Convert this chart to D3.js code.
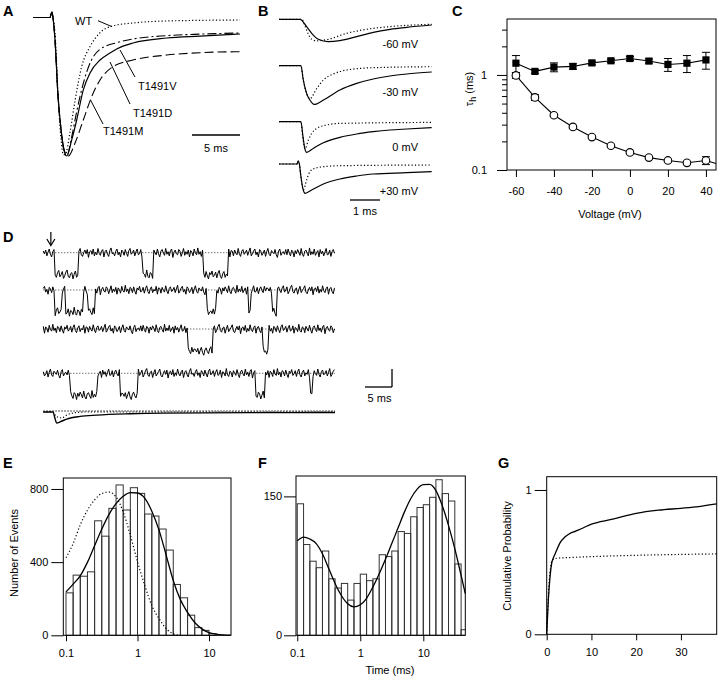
<!DOCTYPE html>
<html><head><meta charset="utf-8">
<script src="https://cdn.jsdelivr.net/npm/d3@7"></script>
<style>
body{margin:0;background:#fff}
svg{display:block;font-family:"Liberation Sans",Arial,Helvetica,sans-serif}
</style></head><body>
<svg id="fig" width="720" height="679"></svg>
<script>
// ================= DATA =================
// Panel A: normalized current (fraction of peak) vs time (ms)
const aOnsetT = [0, 1.77, 1.98, 2.08, 2.29, 2.60, 2.92, 3.23];
const aOnsetI = [0, 0, 0.04, 0, -0.16, -0.56, -0.81, -0.957];
const aWT_T = [0, 1.77, 1.98, 2.08, 2.29, 2.64, 2.92, 3.16, 3.35, 3.85, 4.38, 5.07, 5.94, 6.98, 8.33, 10.4, 13.96, 21.56];
const aWT_I = [0, 0, 0.04, 0, -0.11, -0.60, -0.88, -0.99, -0.99, -0.83, -0.60, -0.355, -0.21, -0.11, -0.06, -0.04, -0.025, -0.018];
const aD_T = [3.51, 4.03, 4.55, 5.24, 5.94, 6.98, 8.02, 8.72, 10.42, 13.93, 17.40, 21.56];
const aD_I = [-1.0, -0.884, -0.74, -0.523, -0.40, -0.307, -0.256, -0.227, -0.184, -0.148, -0.134, -0.119];
const aV_T = [3.51, 4.03, 4.55, 5.24, 6.0, 6.98, 8.72, 10.45, 13.93, 17.40, 21.56];
const aV_I = [-1.0, -0.861, -0.68, -0.475, -0.32, -0.23, -0.182, -0.155, -0.131, -0.12, -0.112];
const aM_T = [3.68, 4.38, 5.24, 6.11, 6.98, 8.33, 10.42, 13.93, 17.40, 21.56];
const aM_I = [-1.0, -0.906, -0.74, -0.572, -0.451, -0.355, -0.307, -0.271, -0.254, -0.247];
const aLabels = ["WT", "T1491V", "T1491D", "T1491M"];
const aScaleMs = 5;

// Panel B: current (arbitrary units) vs time (ms) at four voltages; solid = mutant, dotted = WT
const bVoltLabels = ["-60 mV", "-30 mV", "0 mV", "+30 mV"];
const bSolidT = [
  [0, 0.70, 0.92, 1.09, 1.31, 1.64, 2.03, 2.59, 3.14, 3.70, 4.26, 5.09],
  [0, 0.73, 0.81, 0.92, 1.03, 1.17, 1.48, 2.03, 2.59, 3.14, 3.70, 4.26, 5.09],
  [0, 0.73, 0.80, 0.86, 0.92, 1.14, 1.48, 2.03, 2.59, 3.14, 3.70, 4.26, 5.09],
  [0, 0.60, 0.64, 0.68, 0.72, 0.80, 0.87, 1.09, 1.48, 2.03, 2.59, 3.14, 4.26, 5.09]
];
const bSolidI = [
  [0, 0, -0.73, -1.4, -2.0, -2.23, -2.13, -1.73, -1.3, -1.0, -0.8, -0.57],
  [0, 0, -1.43, -2.77, -3.43, -3.87, -3.43, -2.43, -1.77, -1.33, -1.03, -0.83, -0.63],
  [0, 0, -1.5, -2.7, -3.07, -2.67, -2.1, -1.57, -1.23, -1.0, -0.83, -0.73, -0.6],
  [0, 0, 0.3, 0, -1.0, -2.5, -2.93, -2.6, -2.0, -1.5, -1.2, -1.0, -0.87, -0.77]
];
const bDotT = [
  [0, 0.76, 0.87, 0.98, 1.09, 1.26, 1.64, 2.26, 2.92, 3.70, 5.09],
  [0, 0.73, 0.81, 0.92, 1.03, 1.26, 1.48, 1.81, 2.26, 3.14, 5.09],
  [0, 0.73, 0.79, 0.87, 0.98, 1.09, 1.26, 1.59, 2.03, 5.09],
  [0, 0.60, 0.64, 0.68, 0.72, 0.81, 0.92, 1.03, 1.2, 1.48, 2.03, 5.09]
];
const bDotI = [
  [0, 0, -0.7, -1.5, -2.0, -2.15, -2.0, -1.4, -1.0, -0.73, -0.5],
  [0, 0, -1.43, -2.77, -3.3, -2.27, -1.43, -0.83, -0.43, -0.2, -0.1],
  [0, 0, -1.5, -2.7, -1.83, -1.17, -0.67, -0.33, -0.17, -0.07],
  [0, 0, 0.3, 0, -1.0, -2.6, -1.6, -0.77, -0.43, -0.27, -0.17, -0.1]
];
const bScaleMs = 1;

// Panel C: tau_h (ms) vs voltage (mV)
const cVoltage = [-60, -50, -40, -30, -20, -10, 0, 10, 20, 30, 40];
const cTauSlow = [1.33, 1.09, 1.21, 1.23, 1.34, 1.41, 1.49, 1.40, 1.29, 1.33, 1.44];
const cTauSlowErr = [0.27, 0.05, 0.13, 0.08, 0.06, 0.06, 0.07, 0.07, 0.20, 0.27, 0.29];
const cTauFast = [0.99, 0.58, 0.377, 0.284, 0.222, 0.180, 0.153, 0.135, 0.126, 0.119, 0.126];
const cTauFastErr = [0.07, 0.04, 0.01, 0.008, 0.006, 0.005, 0.004, 0.004, 0.004, 0.004, 0.012];
const cFastTailV = [40, 45.3];
const cFastTailTau = [0.126, 0.117];
const cXTicks = [-60, -40, -20, 0, 20, 40];
const cXTickLabels = ["-60", "-40", "-20", "0", "20", "40"];
const cYMajor = [0.1, 1];
const cYMajorLabels = ["0.1", "1"];
const cYMinor = [0.2, 0.3, 0.4, 0.5, 0.6, 0.7, 0.8, 0.9, 2, 3];

// Panel D: single-channel sweeps (pA, open level = -1), open intervals [start, end] in ms
const dDurationMs = 54;
const dSampleMs = 0.22;
const dOpenLevel = -1;
const dNoiseScale = 0.024;
const dEvents = [
  [[2.17, 6.43], [18.3, 20.3], [29.6, 34.2]],
  [[2.2, 3.41], [4.02, 7.35], [8.28, 9.57], [30.3, 32.1], [37.9, 38.3], [42.3, 43.3]],
  [[26.8, 31.4], [40.5, 41.6]],
  [[4.94, 9.94], [14.2, 17.5], [39.2, 41.1], [49.4, 49.9]]
];
const dNoise = [3,-2,5,-6,1,7,-3,-8,2,6,-1,-5,4,8,-4,0,6,-7,-2,5,9,-3,-6,2,4,-8,1,7,-5,-1,
  3,8,-4,-7,0,5,-2,6,-9,2,4,-3,7,-6,1,-4,8,-1,-5,3,6,-8,2,5,-3,-7,4,9,-2,0,
  -6,3,7,-4,1,-8,5,2,-5,6,-1,-7,4,8,-3,0,5,-6,2,7,-4,-2,6,-8,3,1,-5,9,-3,-6,
  4,2,-7,5,0,-4,7,-2,-8,3,6,-1,-5,8,-3,2,-6,4,7,-9,1,5,-2,-4,6,3,-7,0,8,-5,
  2,-3,5,-8,4,1,-6,7,-1,-4,9,-3,2,-7,5,3,-5,6,-2,-8,4,0,7,-4,-1,5,-6,3,8,-3,
  -7,2,6,-5,1,-2,7,-8,4,3,-6,5,-1,-4,8,-2,-7,3,6,-3,0,5,-5,2,9,-6,-2,4,7,-4,
  1,-8,6,3,-5,-1,5,-7,2,8,-3,-6,4,1,-2,6,-4,-9,3,7,-5,0,2,-3,6,
  -4,7,-1,-6,5,2,-8,4,-2,6,1,-5,8,-3,-7,3,5,-1,-6,9,-4,2,-3,7,-5,0,4,-8,6,-2,
  3,-6,1,8,-4,-3,5,-7,2,6,-1,-5,7,-2,4];
const dAvgT = [0, 1.8, 2.17, 2.48, 3.1, 4.33, 6.8, 9.9, 16, 22.2, 38, 54];
const dAvgI = [0, 0, -0.3, -0.5, -0.45, -0.32, -0.2, -0.14, -0.08, -0.05, -0.03, -0.02];
const dWTAvgT = [0, 1.8, 2.4, 3.4, 4.5, 6, 8, 54];
const dWTAvgI = [0, 0, -0.2, -0.27, -0.12, -0.03, 0, 0];
const dArrowMs = 1.4;
const dScaleMs = 5;

// Panel E: open-time histogram (log bins, 10 per decade starting at 0.1 ms)
const eBinStartLog = -1, eBinWidthLog = 0.1;
const eCounts = [232, 329, 323, 347, 626, 542, 694, 822, 685, 807, 776, 663, 652, 581, 466, 278, 205, 110, 42, 27, 9];
const eFitX = [0.1, 0.126, 0.158, 0.2, 0.251, 0.316, 0.398, 0.501, 0.631, 0.794, 1.0, 1.26, 1.58, 2.0, 2.51, 3.16, 3.98, 5.01, 6.31, 7.94, 10, 12.6, 15.8, 20];
const eFitY = [237, 280, 325, 400, 490, 580, 660, 720, 760, 780, 778, 750, 680, 575, 440, 300, 195, 125, 70, 35, 15, 6, 2, 0.5];
const eWTX = [0.1, 0.126, 0.158, 0.2, 0.251, 0.316, 0.398, 0.501, 0.631, 0.794, 1.0, 1.26, 1.58, 2.0, 2.51, 3.16, 3.98];
const eWTY = [424, 502, 603, 685, 740, 775, 783, 757, 674, 548, 402, 274, 164, 91, 37, 9, 0];
const eXTicks = [0.1, 1, 10], eXTickLabels = ["0.1", "1", "10"];
const eYTicks = [0, 400, 800], eYTickLabels = ["0", "400", "800"];

// Panel F: closed-time histogram
const fBinStartLog = -1, fBinWidthLog = 0.1;
const fCounts = [142, 98, 80, 73, 91, 61, 51, 56, 38, 56, 66, 59, 61, 87, 85, 91, 112, 110, 128, 138, 141, 149, 168, 153, 145, 77, 6];
const fFitX = [0.1, 0.126, 0.158, 0.2, 0.251, 0.316, 0.398, 0.501, 0.631, 0.794, 1, 1.26, 1.58, 2, 2.51, 3.16, 3.98, 5.01, 6.31, 7.94, 10, 12.6, 15.8, 20, 25.1, 31.6, 39.8, 46.4];
const fFitY = [102, 106, 104, 99, 88, 72, 56, 43, 34, 30.6, 33, 40, 52, 66.5, 82, 99, 116, 133, 147.5, 157.6, 162.6, 163, 156.5, 140, 118.7, 93.5, 64.7, 45];
const fXTicks = [0.1, 1, 10], fXTickLabels = ["0.1", "1", "10"];
const fYTicks = [0, 150], fYTickLabels = ["0", "150"];

// Panel G: cumulative probability vs time (ms)
const gSolidX = [0, 0.37, 0.75, 1.1, 1.5, 2.1, 3, 4, 5, 6.5, 8, 10, 12, 15, 20, 25, 30, 34, 38];
const gSolidY = [0, 0.24, 0.40, 0.49, 0.53, 0.573, 0.635, 0.672, 0.695, 0.715, 0.735, 0.764, 0.78, 0.80, 0.838, 0.86, 0.873, 0.885, 0.903];
const gDotX = [0, 0.3, 0.7, 1.3, 2.5, 4.5, 38];
const gDotY = [0, 0.22, 0.42, 0.515, 0.528, 0.531, 0.557];
const gXTicks = [0, 10, 20, 30], gXTickLabels = ["0", "10", "20", "30"];
const gYTicks = [0, 1], gYTickLabels = ["0", "1"];

// ================= DRAWING =================
const svg = d3.select("#fig");
const FONT = '"Liberation Sans", Arial, Helvetica, sans-serif';
const zip = (a, b) => a.map((v, i) => [v, b[i]]);

function txt(x, y, s, o = {}) {
  const t = svg.append("text").attr("x", x).attr("y", y).text(s)
    .attr("font-size", o.size || 11).attr("text-anchor", o.anchor || "start")
    .attr("font-weight", o.weight || "normal").attr("fill", "#000");
  if (o.rotate) t.attr("transform", `rotate(-90,${x},${y})`);
  return t;
}
function seg(x1, y1, x2, y2, w = 1, parent = svg, dash = null) {
  parent.append("line").attr("x1", x1).attr("y1", y1).attr("x2", x2).attr("y2", y2)
    .attr("stroke", "#000").attr("stroke-width", w).attr("stroke-dasharray", dash);
}
function trace(pts, x, y, o = {}) {
  (o.parent || svg).append("path").datum(pts)
    .attr("d", d3.line().x(d => x(d[0])).y(d => y(d[1])).curve(o.curve || d3.curveMonotoneX))
    .attr("fill", "none").attr("stroke", "#000").attr("stroke-width", o.w || 1.2)
    .attr("stroke-dasharray", o.dash || null).attr("stroke-linejoin", "round");
}
function frame(x, y) {
  const [x0, x1] = x.range(), [y0, y1] = y.range();
  svg.append("rect").attr("x", Math.min(x0, x1)).attr("y", Math.min(y0, y1))
    .attr("width", Math.abs(x1 - x0)).attr("height", Math.abs(y1 - y0))
    .attr("fill", "none").attr("stroke", "#000").attr("stroke-width", 1);
}
function styleAxis(g) {
  g.attr("font-family", FONT).attr("font-size", 11);
  g.select(".domain").remove();
  g.selectAll("line").attr("stroke", "#000");
  g.selectAll("text").attr("fill", "#000");
}
function axisB(x, yPos, vals, labels, size, pad) {
  svg.append("g").attr("transform", `translate(0,${yPos})`)
    .call(d3.axisBottom(x).tickValues(vals).tickFormat((d, i) => labels ? labels[i] : "").tickSize(size).tickPadding(pad))
    .call(styleAxis);
}
function axisL(y, xPos, vals, labels, size, pad) {
  svg.append("g").attr("transform", `translate(${xPos},0)`)
    .call(d3.axisLeft(y).tickValues(vals).tickFormat((d, i) => labels ? labels[i] : "").tickSize(size).tickPadding(pad))
    .call(styleAxis);
}
function letter(x, y, s) { txt(x, y, s, { size: 14.5, weight: "bold" }); }

// ---------- Panel A ----------
letter(3, 16, "A");
const xA = d3.scaleLinear().domain([0, 21.56]).range([33, 240]);
const yA = d3.scaleLinear().domain([0, -1]).range([17.5, 156]);
const onset = zip(aOnsetT, aOnsetI);
trace(zip(aWT_T, aWT_I), xA, yA, { dash: "1.2,2.2", w: 1.2 });
trace(onset.concat(zip(aV_T, aV_I)), xA, yA, { dash: "9,3,2,3", w: 1.1 });
trace(onset.concat(zip(aD_T, aD_I)), xA, yA, { w: 1.2 });
trace(onset.concat(zip(aM_T, aM_I)), xA, yA, { dash: "9,4", w: 1.1 });
txt(75, 25, aLabels[0], { size: 11 });
seg(98, 20.7, 112, 26.7);
txt(138, 90, aLabels[1]);
seg(120, 50, 135, 77);
txt(133, 117, aLabels[2]);
seg(110, 62, 130, 104);
txt(103, 135, aLabels[3]);
seg(90.5, 100, 103, 124);
seg(xA(21.56 - aScaleMs), 135, xA(21.56), 135, 1.3);
txt((xA(21.56 - aScaleMs) + xA(21.56)) / 2, 152, aScaleMs + " ms", { anchor: "middle" });

// ---------- Panel B ----------
letter(258, 16, "B");
const xB = d3.scaleLinear().domain([0, 5.1]).range([279, 432]);
const bRowBase = [19.3, 65.7, 121.7, 164];
const bLabelY = [48, 96, 151, 195];
bRowBase.forEach((base, r) => {
  const yB = d3.scaleLinear().domain([0, -1]).range([base, base + 10]);
  trace(zip(bDotT[r], bDotI[r]), xB, yB, { dash: "1.2,2.2", w: 1.2 });
  trace(zip(bSolidT[r], bSolidI[r]), xB, yB, { w: 1.2 });
  txt(418, bLabelY[r], bVoltLabels[r], { anchor: "end" });
});
const bBarX0 = 350, bBarX1 = bBarX0 + (xB(bScaleMs) - xB(0));
seg(bBarX0, 200, bBarX1, 200, 1.3);
txt((bBarX0 + bBarX1) / 2, 215, bScaleMs + " ms", { anchor: "middle" });

// ---------- Panel C ----------
letter(452, 16, "C");
const xC = d3.scaleLinear().domain([-64.7, 45.3]).range([507, 716]);
const yC = d3.scaleLog().domain([0.1, 3.88]).range([170, 19]);
frame(xC, yC);
axisL(yC, 507, cYMajor, cYMajorLabels, 10, 10);
axisL(yC, 507, cYMinor, null, 5, 2);
axisB(xC, 170, cXTicks, cXTickLabels, 7, 10);
txt(610, 218, "Voltage (mV)", { anchor: "middle" });
{
  const t = svg.append("text").attr("x", 473).attr("y", 89).attr("text-anchor", "middle")
    .attr("font-size", 11).attr("transform", "rotate(-90,473,89)");
  t.append("tspan").text("τ");
  t.append("tspan").attr("font-size", 9).attr("dy", 3).text("h");
  t.append("tspan").attr("dy", -3).text(" (ms)");
}
const gC = svg.append("g");
function errBars(vals, errs) {
  cVoltage.forEach((v, i) => {
    const x = xC(v), yt = yC(vals[i] + errs[i]), yb = yC(Math.max(vals[i] - errs[i], 0.101));
    seg(x, yt, x, yb, 1, gC); seg(x - 4, yt, x + 4, yt, 1, gC); seg(x - 4, yb, x + 4, yb, 1, gC);
  });
}
errBars(cTauSlow, cTauSlowErr);
errBars(cTauFast, cTauFastErr);
trace(zip(cVoltage, cTauSlow), xC, yC, { curve: d3.curveLinear, w: 1.1, parent: gC });
trace(zip(cVoltage, cTauFast), xC, yC, { curve: d3.curveLinear, w: 1.1, parent: gC });
trace(zip(cFastTailV, cFastTailTau), xC, yC, { curve: d3.curveLinear, w: 1.1, parent: gC });
gC.selectAll("rect.sq").data(cVoltage).enter().append("rect")
  .attr("x", (d) => xC(d) - 3.6).attr("y", (d, i) => yC(cTauSlow[i]) - 3.6)
  .attr("width", 7.2).attr("height", 7.2).attr("fill", "#000");
gC.selectAll("circle.ci").data(cVoltage).enter().append("circle")
  .attr("cx", (d) => xC(d)).attr("cy", (d, i) => yC(cTauFast[i])).attr("r", 3.8)
  .attr("fill", "#fff").attr("stroke", "#000").attr("stroke-width", 1.1);

// ---------- Panel D ----------
letter(3, 242, "D");
const xD = d3.scaleLinear().domain([0, dDurationMs]).range([43.3, 335]);
const dRowBase = [252.7, 290, 329, 373.3];
dRowBase.forEach((base, r) => {
  const yD = d3.scaleLinear().domain([0, -1]).range([base, base + 22]);
  seg(xD(0), base, xD(dDurationMs), base, 0.8, svg, "1,2");
  const n = Math.round(dDurationMs / dSampleMs);
  const pts = d3.range(n + 1).map(i => {
    const t = i * dSampleMs;
    const open = dEvents[r].some(e => t >= e[0] && t <= e[1]);
    return [t, (open ? dOpenLevel : 0) + dNoise[(i + r * 61) % dNoise.length] * dNoiseScale];
  });
  trace(pts, xD, yD, { curve: d3.curveLinear, w: 1 });
});
{
  const base = 412;
  const yAvg = d3.scaleLinear().domain([0, -1]).range([base, base + 22]);
  seg(xD(0), base - 1, xD(dDurationMs), base - 1, 0.9, svg, "1.5,1.5");
  trace(zip(dWTAvgT, dWTAvgI), xD, yAvg, { dash: "1.2,2", w: 1.1 });
  trace(zip(dAvgT, dAvgI), xD, yAvg, { w: 1.4 });
}
seg(xD(dArrowMs), 232, xD(dArrowMs), 245, 1.2);
svg.append("path").attr("d", `M${xD(dArrowMs) - 4},239 L${xD(dArrowMs)},245.5 L${xD(dArrowMs) + 4},239`)
  .attr("fill", "none").attr("stroke", "#000").attr("stroke-width", 1.2);
{
  const x0 = 365, x1 = x0 + (xD(dScaleMs) - xD(0));
  seg(x0, 387, x1, 387, 1.3);
  seg(x1, 387, x1, 369, 1.3);
  txt((x0 + x1) / 2 + 1, 402, dScaleMs + " ms", { anchor: "middle" });
}

// ---------- Panel E ----------
letter(3, 468, "E");
const xE = d3.scaleLog().domain([0.0917, 20.3]).range([63.3, 231]);
const yE = d3.scaleLinear().domain([0, 860]).range([635.3, 478]);
svg.append("g").selectAll("rect").data(eCounts).enter().append("rect")
  .attr("x", (d, i) => xE(Math.pow(10, eBinStartLog + i * eBinWidthLog)))
  .attr("width", (d, i) => xE(Math.pow(10, eBinStartLog + (i + 1) * eBinWidthLog)) - xE(Math.pow(10, eBinStartLog + i * eBinWidthLog)))
  .attr("y", d => yE(d)).attr("height", d => yE(0) - yE(d))
  .attr("fill", "none").attr("stroke", "#333").attr("stroke-width", 1);
trace(zip(eWTX, eWTY), xE, yE, { dash: "1.2,2.2", w: 1.2 });
trace(zip(eFitX, eFitY), xE, yE, { w: 1.3 });
frame(xE, yE);
axisL(yE, 63.3, eYTicks, eYTickLabels, 12, 3);
axisB(xE, 635.3, eXTicks, eXTickLabels, 6, 8);
txt(18, 553, "Number of Events", { anchor: "middle", rotate: true });

// ---------- Panel F ----------
letter(258, 468, "F");
const xF = d3.scaleLog().domain([0.0955, 46.4]).range([296, 465.3]);
const yF = d3.scaleLinear().domain([0, 172]).range([635.3, 476]);
svg.append("clipPath").attr("id", "clipF").append("rect").attr("x", 296).attr("y", 470).attr("width", 169.3).attr("height", 170);
svg.append("g").attr("clip-path", "url(#clipF)").selectAll("rect").data(fCounts).enter().append("rect")
  .attr("x", (d, i) => xF(Math.pow(10, fBinStartLog + i * fBinWidthLog)))
  .attr("width", (d, i) => xF(Math.pow(10, fBinStartLog + (i + 1) * fBinWidthLog)) - xF(Math.pow(10, fBinStartLog + i * fBinWidthLog)))
  .attr("y", d => yF(d)).attr("height", d => yF(0) - yF(d))
  .attr("fill", "none").attr("stroke", "#333").attr("stroke-width", 1);
trace(zip(fFitX, fFitY), xF, yF, { w: 1.3 });
frame(xF, yF);
axisL(yF, 296, fYTicks, fYTickLabels, 12, 2);
axisB(xF, 635.3, fXTicks, fXTickLabels, 6, 8);
txt(390, 674, "Time (ms)", { anchor: "middle" });

// ---------- Panel G ----------
letter(498, 468, "G");
const xG = d3.scaleLinear().domain([0, 38]).range([546.7, 716.7]);
const yG = d3.scaleLinear().domain([0, 1.092]).range([634.3, 476.7]);
trace(zip(gDotX, gDotY), xG, yG, { dash: "1.2,2.2", w: 1.2 });
trace(zip(gSolidX, gSolidY), xG, yG, { w: 1.3 });
frame(xG, yG);
axisL(yG, 546.7, gYTicks, gYTickLabels, 12, 3);
axisB(xG, 634.3, gXTicks, gXTickLabels, 6, 8);
txt(511, 556, "Cumulative Probability", { anchor: "middle", rotate: true });
</script>
</body></html>
